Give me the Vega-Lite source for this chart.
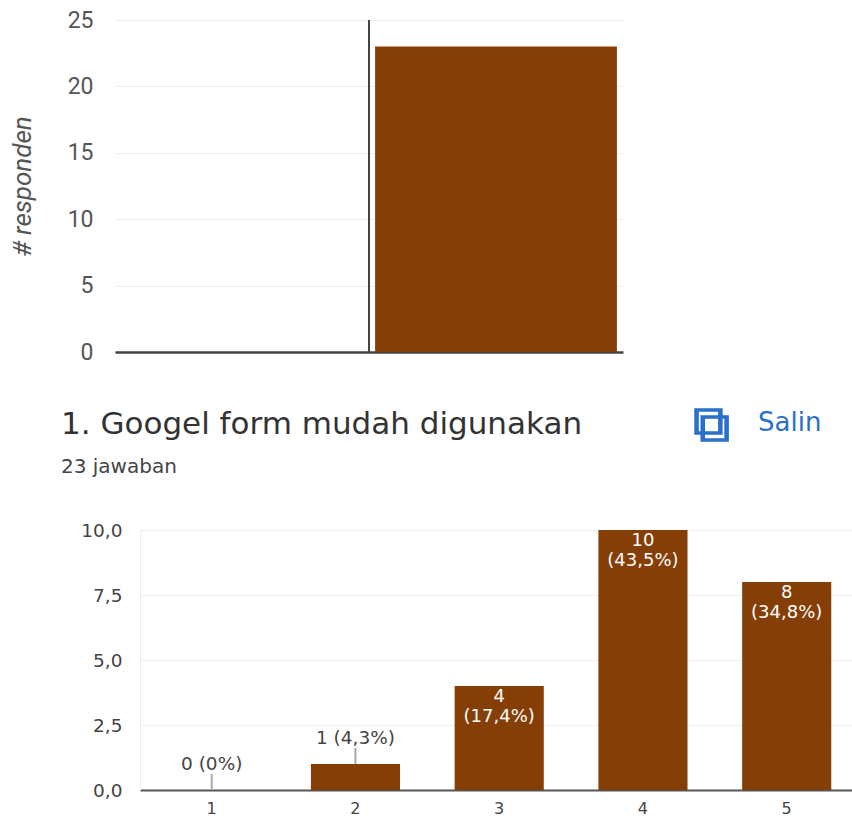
{
"$schema":"https://vega.github.io/schema/vega-lite/v6.json",
"background":"white",
"padding":{"left":9,"top":9,"right":0,"bottom":26},
"spacing":178,
"bounds":"flush",
"config":{"view":{"stroke":null}},
"vconcat":[
{
"width":508,"height":332,
"layer":[
{"data":{"values":[{"start":-0.98,"end":-0.02,"count":0},{"start":0.024,"end":0.976,"count":23}]},
"mark":{"type":"bar","color":"#853f06"},
"encoding":{
"x":{"field":"start","type":"quantitative","scale":{"domain":[-1,1],"nice":false,"zero":false},
"axis":{"title":null,"labels":false,"ticks":false,"grid":false,"domain":true,"domainColor":"#444444","domainWidth":2.5,"orient":"bottom"}},
"x2":{"field":"end"},
"y":{"field":"count","type":"quantitative","scale":{"domain":[0,25],"nice":false},
"axis":{"title":"# responden","titleFont":"Roboto","titleFontStyle":"italic","titleFontWeight":"normal","titleFontSize":26,"titleColor":"#555555","titlePadding":32,
"values":[0,5,10,15,20,25],"labelFont":"Roboto","labelFontSize":23,"labelColor":"#555555","labelPadding":22,"ticks":false,"domain":false,"gridColor":"#eeeeee","grid":true}},
"y2":{"datum":0}}},
{"data":{"values":[{"at":0,"low":0,"high":25}]},
"mark":{"type":"rule","color":"#444444","strokeWidth":2},
"encoding":{"x":{"field":"at","type":"quantitative"},"y":{"field":"low","type":"quantitative"},"y2":{"field":"high"}}}
]
},
{
"width":737,"height":260,
"title":{"text":"1. Googel form mudah digunakan","subtitle":"23 jawaban","anchor":"start","frame":"group","align":"left","dx":-54,"offset":-79,"font":"DejaVu Sans","fontSize":31,"fontWeight":"normal","color":"#333333","subtitleFont":"DejaVu Sans","subtitleFontSize":20,"subtitleColor":"#444444","subtitlePadding":16},
"data":{"values":[
{"skala":"1","jumlah":0,"label":"0 (0%)","posisi":"luar"},
{"skala":"2","jumlah":1,"label":"1 (4,3%)","posisi":"luar"},
{"skala":"3","jumlah":4,"label":"4\n(17,4%)","posisi":"dalam"},
{"skala":"4","jumlah":10,"label":"10\n(43,5%)","posisi":"dalam"},
{"skala":"5","jumlah":8,"label":"8\n(34,8%)","posisi":"dalam"}]},
"encoding":{
"x":{"field":"skala","type":"nominal","scale":{"range":[25,737],"paddingInner":0.38,"paddingOuter":0.1666,"align":0.567},
"axis":{"title":null,"labelAngle":0,"labelFont":"DejaVu Sans","labelFontSize":16,"labelColor":"#444444","labelPadding":10,"ticks":false,"domainColor":"#555555","domainWidth":2,"grid":false}},
"y":{"field":"jumlah","type":"quantitative","scale":{"domain":[0,10],"nice":false},
"axis":{"title":null,"values":[0,2.5,5,7.5,10],"labelExpr":"replace(format(datum.value,'.1f'),'.',',')","offset":-25,"labelFont":"DejaVu Sans","labelFontSize":18.5,"labelColor":"#444444","labelPadding":18,"ticks":false,"domainColor":"#eeeeee","gridColor":"#eeeeee","grid":true}}
},
"layer":[
{"mark":{"type":"bar","color":"#853f06"}},
{"transform":[{"filter":"datum.posisi==='luar'"}],
"mark":{"type":"rule","color":"#aaaaaa","strokeWidth":2,"y2Offset":-16},
"encoding":{"y2":{"field":"jumlah"}}},
{"transform":[{"filter":"datum.posisi==='luar'"}],
"mark":{"type":"text","font":"DejaVu Sans","fontSize":18.5,"color":"#444444","baseline":"middle","dy":-26},
"encoding":{"text":{"field":"label"}}},
{"transform":[{"filter":"datum.posisi==='dalam'"}],
"mark":{"type":"text","font":"DejaVu Sans","fontSize":18,"color":"#ffffff","baseline":"top","dy":2,"lineBreak":"\n","lineHeight":20},
"encoding":{"text":{"field":"label"}}},
{"data":{"values":[{"skala":"5","posisi_y":14.1,"teks":"Salin"}]},
"mark":{"type":"text","font":"DejaVu Sans","fontSize":26,"color":"#2a70c9","dx":3,"baseline":"middle"},
"encoding":{"x":{"field":"skala","type":"nominal"},"y":{"field":"posisi_y","type":"quantitative"},"text":{"field":"teks"}}},
{"data":{"values":[{"skala":"5","posisi_y":14.05,"teks":"⧉"}]},
"mark":{"type":"text","font":"DejaVu Sans","fontSize":52,"fontWeight":"bold","color":"#2a70c9","dx":-75,"baseline":"middle"},
"encoding":{"x":{"field":"skala","type":"nominal"},"y":{"field":"posisi_y","type":"quantitative"},"text":{"field":"teks"}}}
]
}
]
}
